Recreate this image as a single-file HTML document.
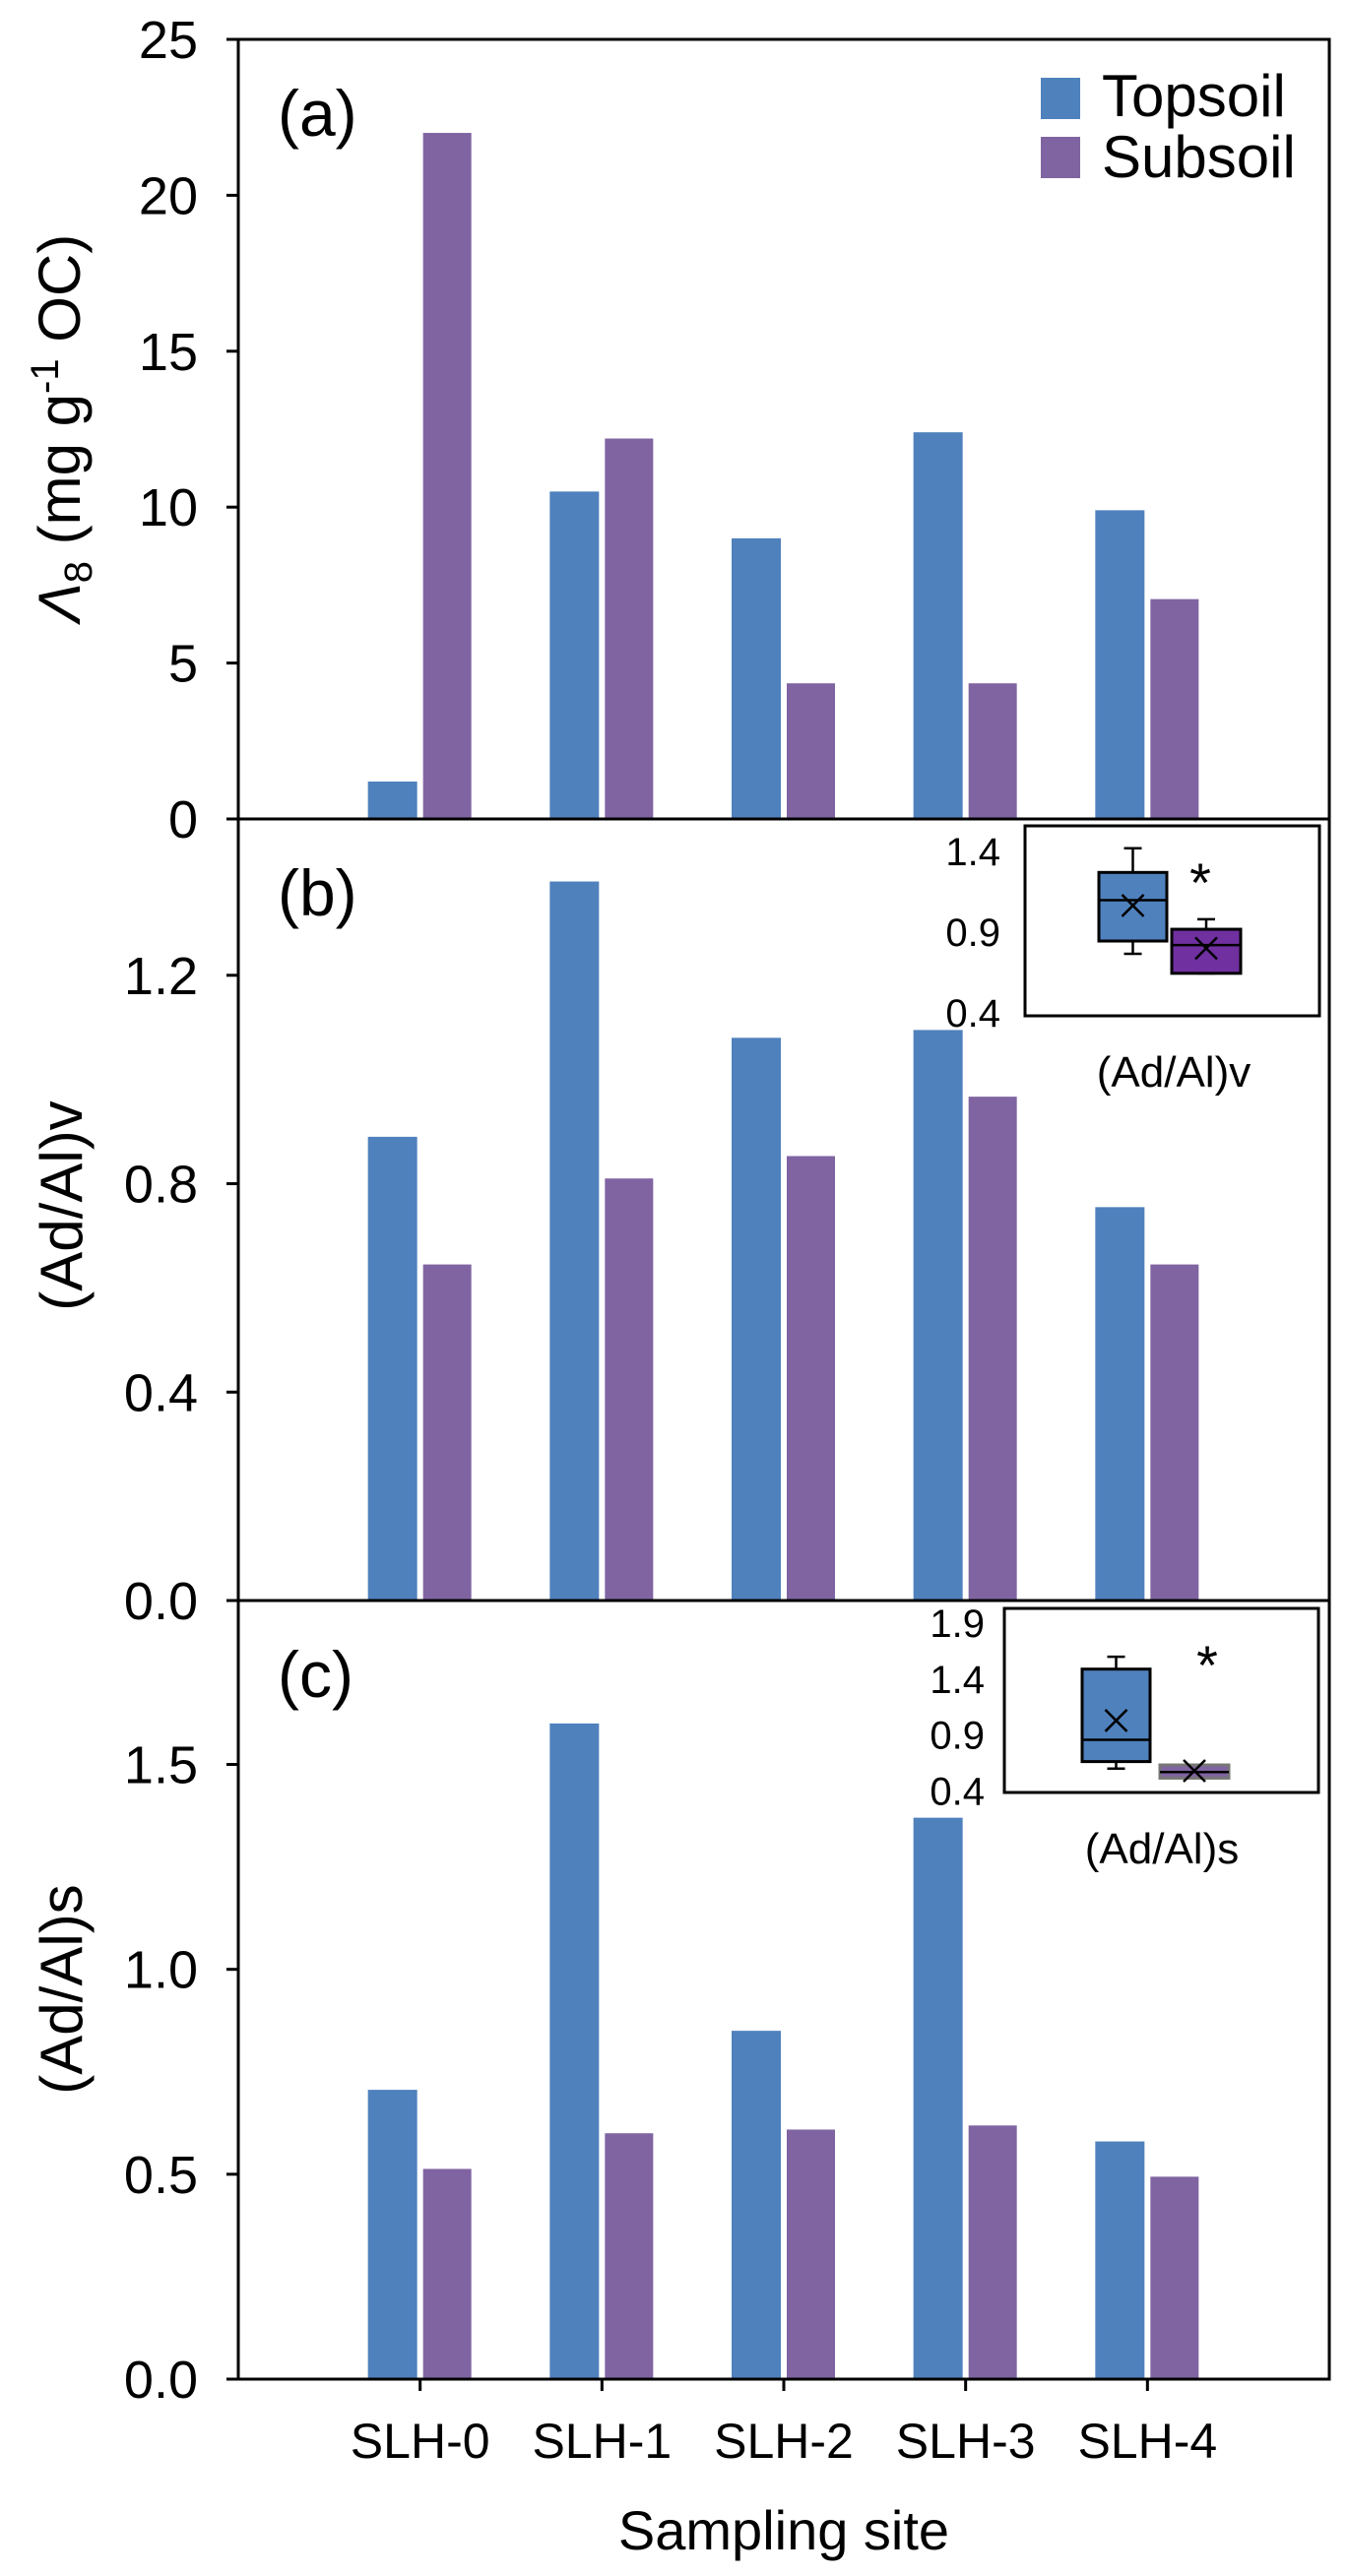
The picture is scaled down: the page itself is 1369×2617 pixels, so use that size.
<!DOCTYPE html>
<html><head><meta charset="utf-8"><style>
html,body{margin:0;padding:0;background:#fff;}
svg{display:block;font-family:"Liberation Sans",Arial,sans-serif;}
</style></head><body>
<svg id="chart" width="1369" height="2617" viewBox="0 0 1369 2617" xmlns="http://www.w3.org/2000/svg"></svg>
<script>
const categories = ["SLH-0","SLH-1","SLH-2","SLH-3","SLH-4"];
const lambdaTop = [1.2, 10.5, 9.0, 12.4, 9.9];
const lambdaSub = [22.0, 12.2, 4.35, 4.35, 7.05];
const advTop = [0.89, 1.38, 1.08, 1.095, 0.755];
const advSub = [0.645, 0.81, 0.853, 0.967, 0.645];
const adsTop = [0.706, 1.6, 0.85, 1.37, 0.58];
const adsSub = [0.513, 0.60, 0.609, 0.619, 0.494];
const ticksA = [0,5,10,15,20,25];
const tickLabelsA = ["0","5","10","15","20","25"];
const ticksB = [0,0.4,0.8,1.2];
const tickLabelsB = ["0.0","0.4","0.8","1.2"];
const ticksC = [0,0.5,1.0,1.5];
const tickLabelsC = ["0.0","0.5","1.0","1.5"];
// inset box stats [whiskerLow, q1, median, q3, whiskerHigh, mean]
const insetBTop = [0.766, 0.845, 1.098, 1.27, 1.42, 1.065];
const insetBSub = [0.645, 0.645, 0.82, 0.918, 0.98, 0.80];
const insetCTop = [0.60, 0.663, 0.858, 1.49, 1.60, 1.03];
const insetCSub = [0.515, 0.515, 0.57, 0.633, 0.633, 0.58];
const insetTicksB = [0.4,0.9,1.4];
const insetTickLabelsB = ["0.4","0.9","1.4"];
const insetTicksC = [0.4,0.9,1.4,1.9];
const insetTickLabelsC = ["0.4","0.9","1.4","1.9"];

const NS = "http://www.w3.org/2000/svg";
const svg = document.getElementById("chart");
const BLUE = "#4f81bd", PURPLE = "#8064a2";
const X0 = 242, X1 = 1350;
function xScale(i){ return X0 + (i + 1) * (X1 - X0) / 6; }
function mk(tag, attrs, parent){
  const e = document.createElementNS(NS, tag);
  for (const k in attrs) e.setAttribute(k, attrs[k]);
  (parent || svg).appendChild(e);
  return e;
}
function txt(str, attrs, parent){ const t = mk("text", attrs, parent); t.textContent = str; return t; }

function panel(key, top, bottom, max, topVals, subVals, ticks, tickLabels, letter){
  const g = mk("g", {});
  
  
  const y = v => bottom - v / max * (bottom - top);
  for (let i = 0; i < categories.length; i++){
    const cx = xScale(i);
    const b1 = mk("rect", {x: cx - 53, y: y(topVals[i]), width: 50, height: bottom - y(topVals[i]), fill: BLUE}, g);
    
    
    const b2 = mk("rect", {x: cx + 3, y: y(subVals[i]), width: 49, height: bottom - y(subVals[i]), fill: PURPLE}, g);
    
    
  }
  const fr = mk("rect", {x: X0, y: top, width: X1 - X0, height: bottom - top, fill: "none", stroke: "#000", "stroke-width": 3}, g);
  
  
  for (let i = 0; i < ticks.length; i++){
    const ty = y(ticks[i]);
    mk("line", {x1: 230, x2: X0, y1: ty, y2: ty, stroke: "#000", "stroke-width": 3}, g);
    const t = txt(tickLabels[i], {x: 201, y: ty + 19, "text-anchor": "end", "font-size": 54}, g);
    
    
  }
  const L = txt(letter, {x: 282, y: top + 98, "font-size": 66}, g);
  
  
  return y;
}

panel("a", 40, 832, 25, lambdaTop, lambdaSub, ticksA, tickLabelsA, "(a)");
panel("b", 832, 1626, 1.5, advTop, advSub, ticksB, tickLabelsB, "(b)");
panel("c", 1626, 2417, 1.9, adsTop, adsSub, ticksC, tickLabelsC, "(c)");

// x ticks and labels
for (let i = 0; i < categories.length; i++){
  const cx = xScale(i);
  mk("line", {x1: cx, x2: cx, y1: 2417, y2: 2429, stroke: "#000", "stroke-width": 3});
  const t = txt(categories[i], {x: cx, y: 2497, "text-anchor": "middle", "font-size": 50});
  
  
}
const xt = txt("Sampling site", {x: 796, y: 2590, "text-anchor": "middle", "font-size": 56});



// y titles
const ya = mk("text", {transform: "translate(81,435) rotate(-90)", "text-anchor": "middle", "font-size": 60});


ya.innerHTML = '<tspan font-style="italic">Λ</tspan><tspan font-size="40" dy="12">8</tspan><tspan dy="-12"> (mg g</tspan><tspan font-size="40" dy="-22">-1</tspan><tspan dy="22"> OC)</tspan>';
const yb = txt("(Ad/Al)v", {transform: "translate(83,1225) rotate(-90)", "text-anchor": "middle", "font-size": 60});


const yc = txt("(Ad/Al)s", {transform: "translate(83,2021) rotate(-90)", "text-anchor": "middle", "font-size": 60});



// legend
const lg = mk("g", {});


mk("rect", {x: 1057, y: 79, width: 40, height: 42, fill: BLUE}, lg);
txt("Topsoil", {x: 1119, y: 118, "font-size": 60}, lg);
mk("rect", {x: 1057, y: 139, width: 40, height: 42, fill: PURPLE}, lg);
txt("Subsoil", {x: 1119, y: 180, "font-size": 60}, lg);

// insets
function inset(key, bx, by, bw, bh, y0px, pxPerUnit, ticks, labels, labelX, topStats, subStats, topX, subX, subFill, subStroke, starX, starY, title, titleX, titleY){
  const g = mk("g", {});
  
  
  const yv = v => y0px - (v - 0.4) * pxPerUnit;
  mk("rect", {x: bx, y: by, width: bw, height: bh, fill: "#fff", stroke: "#000", "stroke-width": 3}, g);
  for (let i = 0; i < ticks.length; i++){
    txt(labels[i], {x: labelX, y: yv(ticks[i]) + 14, "text-anchor": "end", "font-size": 40}, g);
  }
  function box(stats, x, w, fill, stroke){
    const cx = x + w / 2;
    mk("line", {x1: cx, x2: cx, y1: yv(stats[4]), y2: yv(stats[0]), stroke: "#000", "stroke-width": 2.5}, g);
    mk("line", {x1: cx - 9, x2: cx + 9, y1: yv(stats[4]), y2: yv(stats[4]), stroke: "#000", "stroke-width": 2.5}, g);
    mk("line", {x1: cx - 9, x2: cx + 9, y1: yv(stats[0]), y2: yv(stats[0]), stroke: "#000", "stroke-width": 2.5}, g);
    mk("rect", {x: x, y: yv(stats[3]), width: w, height: Math.max(yv(stats[1]) - yv(stats[3]), 4), fill: fill, stroke: stroke, "stroke-width": 3}, g);
    mk("line", {x1: x, x2: x + w, y1: yv(stats[2]), y2: yv(stats[2]), stroke: "#000", "stroke-width": 2.5}, g);
    const my = yv(stats[5]);
    mk("path", {d: `M${cx-11},${my-11}L${cx+11},${my+11}M${cx-11},${my+11}L${cx+11},${my-11}`, stroke: "#000", "stroke-width": 2.5, fill: "none"}, g);
  }
  box(topStats, topX, 69, BLUE, "#000");
  box(subStats, subX, 70, subFill, subStroke);
  txt("*", {x: starX, y: starY + 30, "text-anchor": "middle", "font-size": 56}, g);
  txt(title, {x: titleX, y: titleY + 15, "text-anchor": "middle", "font-size": 44}, g);
}
inset("b", 1041, 839, 299, 193, 1029, 164, insetTicksB, insetTickLabelsB, 1016, insetBTop, insetBSub, 1116, 1190, "#7030a0", "#000", 1219, 886, "(Ad/Al)v", 1192, 1089);
inset("c", 1020, 1634, 319, 187, 1819.5, 113.6, insetTicksC, insetTickLabelsC, 1000, insetCTop, insetCSub, 1099, 1178, "#8064a2", "#777", 1226, 1681, "(Ad/Al)s", 1180, 1878);
</script>
</body></html>
